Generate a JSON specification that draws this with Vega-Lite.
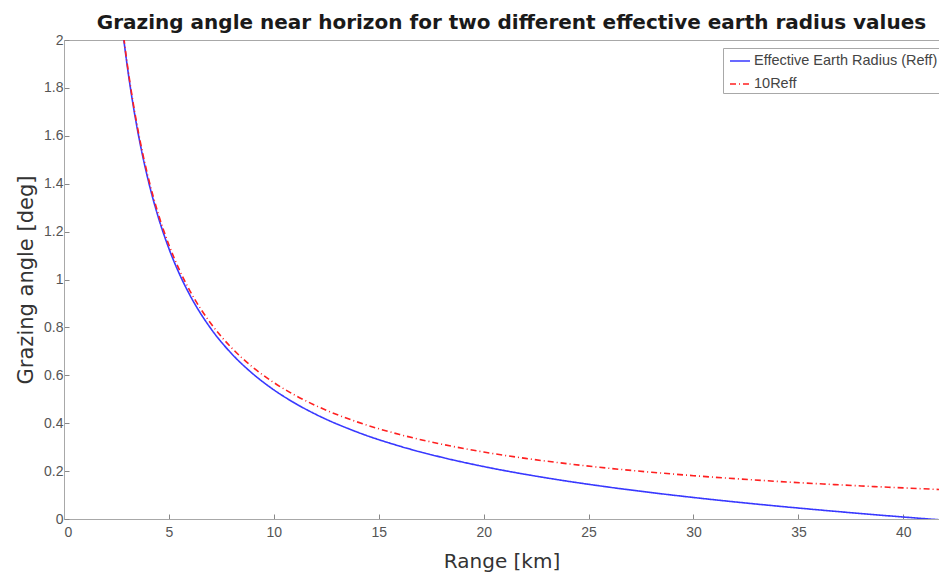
{
  "$schema": "https://vega.github.io/schema/vega-lite/v6.json",
  "width": 875,
  "height": 479,
  "autosize": {"type": "none"},
  "padding": {"left": 64, "top": 40, "right": 0, "bottom": 58},
  "background": "white",
  "config": {
    "font": "Liberation Sans",
    "view": {"stroke": "#a8a8a8", "strokeWidth": 1}
  },
  "title": {
    "text": "Grazing angle near horizon for two different effective earth radius values",
    "font": "DejaVu Sans",
    "fontWeight": "bold",
    "fontSize": 20,
    "color": "#1a1a1a",
    "anchor": "middle",
    "offset": 0,
    "dx": 10
  },
  "data": {
    "values": [
      {"range": 2.85, "angle": 2.001, "series": "Effective Earth Radius (Reff)"},
      {"range": 3, "angle": 1.9001, "series": "Effective Earth Radius (Reff)"},
      {"range": 3.25, "angle": 1.7523, "series": "Effective Earth Radius (Reff)"},
      {"range": 3.5, "angle": 1.6254, "series": "Effective Earth Radius (Reff)"},
      {"range": 3.75, "angle": 1.5154, "series": "Effective Earth Radius (Reff)"},
      {"range": 4, "angle": 1.419, "series": "Effective Earth Radius (Reff)"},
      {"range": 4.5, "angle": 1.2582, "series": "Effective Earth Radius (Reff)"},
      {"range": 5, "angle": 1.1291, "series": "Effective Earth Radius (Reff)"},
      {"range": 5.5, "angle": 1.0232, "series": "Effective Earth Radius (Reff)"},
      {"range": 6, "angle": 0.9347, "series": "Effective Earth Radius (Reff)"},
      {"range": 7, "angle": 0.7949, "series": "Effective Earth Radius (Reff)"},
      {"range": 8, "angle": 0.6892, "series": "Effective Earth Radius (Reff)"},
      {"range": 9, "angle": 0.6063, "series": "Effective Earth Radius (Reff)"},
      {"range": 10, "angle": 0.5392, "series": "Effective Earth Radius (Reff)"},
      {"range": 11, "angle": 0.4838, "series": "Effective Earth Radius (Reff)"},
      {"range": 12, "angle": 0.437, "series": "Effective Earth Radius (Reff)"},
      {"range": 14, "angle": 0.362, "series": "Effective Earth Radius (Reff)"},
      {"range": 16, "angle": 0.3041, "series": "Effective Earth Radius (Reff)"},
      {"range": 18, "angle": 0.2576, "series": "Effective Earth Radius (Reff)"},
      {"range": 20, "angle": 0.219, "series": "Effective Earth Radius (Reff)"},
      {"range": 22, "angle": 0.1862, "series": "Effective Earth Radius (Reff)"},
      {"range": 24, "angle": 0.1578, "series": "Effective Earth Radius (Reff)"},
      {"range": 26, "angle": 0.1327, "series": "Effective Earth Radius (Reff)"},
      {"range": 28, "angle": 0.1102, "series": "Effective Earth Radius (Reff)"},
      {"range": 30, "angle": 0.0898, "series": "Effective Earth Radius (Reff)"},
      {"range": 32, "angle": 0.0711, "series": "Effective Earth Radius (Reff)"},
      {"range": 34, "angle": 0.0539, "series": "Effective Earth Radius (Reff)"},
      {"range": 36, "angle": 0.0378, "series": "Effective Earth Radius (Reff)"},
      {"range": 38, "angle": 0.0226, "series": "Effective Earth Radius (Reff)"},
      {"range": 40, "angle": 0.0083, "series": "Effective Earth Radius (Reff)"},
      {"range": 41, "angle": 0.0015, "series": "Effective Earth Radius (Reff)"},
      {"range": 41.7, "angle": -0.0032, "series": "Effective Earth Radius (Reff)"},
      {"range": 2.85, "angle": 2.0098, "series": "10Reff"},
      {"range": 3, "angle": 1.9092, "series": "10Reff"},
      {"range": 3.25, "angle": 1.7621, "series": "10Reff"},
      {"range": 3.5, "angle": 1.6361, "series": "10Reff"},
      {"range": 3.75, "angle": 1.5268, "series": "10Reff"},
      {"range": 4, "angle": 1.4312, "series": "10Reff"},
      {"range": 4.5, "angle": 1.2718, "series": "10Reff"},
      {"range": 5, "angle": 1.1443, "series": "10Reff"},
      {"range": 5.5, "angle": 1.0399, "series": "10Reff"},
      {"range": 6, "angle": 0.9529, "series": "10Reff"},
      {"range": 7, "angle": 0.8161, "series": "10Reff"},
      {"range": 8, "angle": 0.7135, "series": "10Reff"},
      {"range": 9, "angle": 0.6336, "series": "10Reff"},
      {"range": 10, "angle": 0.5696, "series": "10Reff"},
      {"range": 11, "angle": 0.5172, "series": "10Reff"},
      {"range": 12, "angle": 0.4734, "series": "10Reff"},
      {"range": 14, "angle": 0.4045, "series": "10Reff"},
      {"range": 16, "angle": 0.3527, "series": "10Reff"},
      {"range": 18, "angle": 0.3123, "series": "10Reff"},
      {"range": 20, "angle": 0.2797, "series": "10Reff"},
      {"range": 22, "angle": 0.253, "series": "10Reff"},
      {"range": 24, "angle": 0.2307, "series": "10Reff"},
      {"range": 26, "angle": 0.2116, "series": "10Reff"},
      {"range": 28, "angle": 0.1952, "series": "10Reff"},
      {"range": 30, "angle": 0.1809, "series": "10Reff"},
      {"range": 32, "angle": 0.1683, "series": "10Reff"},
      {"range": 34, "angle": 0.157, "series": "10Reff"},
      {"range": 36, "angle": 0.147, "series": "10Reff"},
      {"range": 38, "angle": 0.138, "series": "10Reff"},
      {"range": 40, "angle": 0.1298, "series": "10Reff"},
      {"range": 41.7, "angle": 0.1233, "series": "10Reff"}
    ]
  },
  "mark": {"type": "line", "clip": true, "strokeWidth": 1.6, "interpolate": "monotone"},
  "encoding": {
    "x": {
      "field": "range",
      "type": "quantitative",
      "scale": {"domain": [0, 41.7], "nice": false, "zero": false},
      "axis": {
        "title": "Range [km]",
        "titleFont": "DejaVu Sans",
        "titleFontSize": 20,
        "titleFontWeight": "normal",
        "titleColor": "#333333",
        "titlePadding": 12,
        "values": [0, 5, 10, 15, 20, 25, 30, 35, 40],
        "labelFontSize": 14,
        "labelColor": "#555555",
        "labelPadding": 11,
        "tickSize": -5,
        "tickColor": "#888888",
        "domainColor": "#a8a8a8",
        "grid": false
      }
    },
    "y": {
      "field": "angle",
      "type": "quantitative",
      "scale": {"domain": [0, 2], "nice": false},
      "axis": {
        "title": "Grazing angle [deg]",
        "titleFont": "DejaVu Sans",
        "titleFontSize": 21,
        "titleFontWeight": "normal",
        "titleColor": "#333333",
        "titlePadding": 7,
        "values": [0, 0.2, 0.4, 0.6, 0.8, 1, 1.2, 1.4, 1.6, 1.8, 2],
        "format": "~g",
        "labelFontSize": 14,
        "labelColor": "#555555",
        "labelPadding": 6,
        "tickSize": -5,
        "tickColor": "#888888",
        "domainColor": "#a8a8a8",
        "grid": false
      }
    },
    "color": {
      "field": "series",
      "type": "nominal",
      "sort": ["Effective Earth Radius (Reff)", "10Reff"],
      "scale": {"domain": ["Effective Earth Radius (Reff)", "10Reff"], "range": ["#3838ff", "#ff2020"]},
      "legend": {
        "title": null,
        "orient": "none",
        "legendX": 659,
        "legendY": 8,
        "direction": "vertical",
        "fillColor": "white",
        "strokeColor": "#a8a8a8",
        "padding": 2,
        "labelFontSize": 14.5,
        "labelColor": "#444444",
        "labelOffset": 3,
        "symbolType": "stroke",
        "symbolSize": 400,
        "symbolOffset": 4,
        "symbolStrokeWidth": 1.5,
        "rowPadding": 5,
        "labelLimit": 400
      }
    },
    "strokeDash": {
      "field": "series",
      "type": "nominal",
      "sort": ["Effective Earth Radius (Reff)", "10Reff"],
      "scale": {"domain": ["Effective Earth Radius (Reff)", "10Reff"], "range": [[1, 0], [6, 3, 1, 3]]},
      "legend": null
    }
  }
}
